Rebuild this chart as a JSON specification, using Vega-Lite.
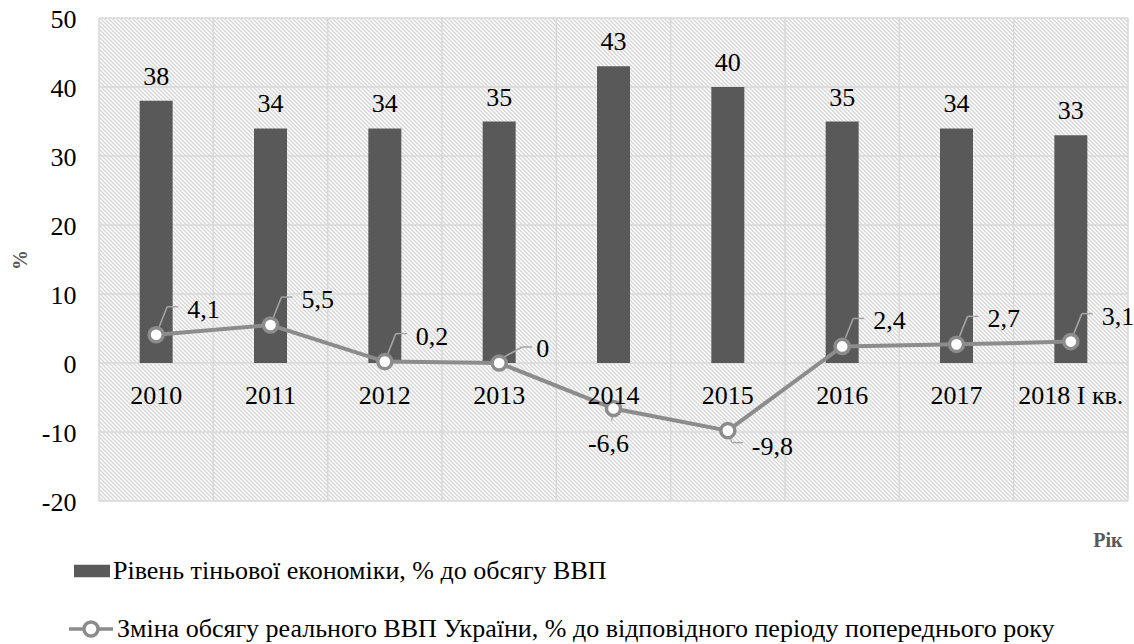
{
  "$schema": "https://vega.github.io/schema/vega-lite/v6.json",
  "width": 1029,
  "height": 483,
  "autosize": {"type": "none"},
  "padding": {"left": 99, "top": 18, "right": 6, "bottom": 143},
  "background": "white",
  "config": {
    "view": {"stroke": null},
    "font": "Liberation Serif, Times New Roman, DejaVu Serif, serif",
    "style": {
      "guide-label": {"font": "Liberation Serif, Times New Roman, DejaVu Serif, serif"},
      "guide-title": {"font": "Liberation Serif, Times New Roman, DejaVu Serif, serif"},
      "text": {"font": "Liberation Serif, Times New Roman, DejaVu Serif, serif"}
    },
    "axis": {"grid": false, "ticks": false, "domain": false},
    "locale": {"number": {"decimal": ",", "thousands": " ", "grouping": [3], "currency": ["", ""], "minus": "-"}}
  },
  "datasets": {
    "main": [
      {"year": "2010", "shadow": 38, "gdp": 4.1},
      {"year": "2011", "shadow": 34, "gdp": 5.5},
      {"year": "2012", "shadow": 34, "gdp": 0.2},
      {"year": "2013", "shadow": 35, "gdp": 0},
      {"year": "2014", "shadow": 43, "gdp": -6.6},
      {"year": "2015", "shadow": 40, "gdp": -9.8},
      {"year": "2016", "shadow": 35, "gdp": 2.4},
      {"year": "2017", "shadow": 34, "gdp": 2.7},
      {"year": "2018 I кв.", "shadow": 33, "gdp": 3.1}
    ],
    "grid": [{"v": -20}, {"v": -10}, {"v": 0}, {"v": 10}, {"v": 20}, {"v": 30}, {"v": 40}, {"v": 50}]
  },
  "data": {"name": "main"},
  "layer": [
    {
      "data": {"values": [{}]},
      "mark": {"type": "rule", "clip": true, "color": "#d6d6d6", "strokeWidth": 1300, "strokeDash": [1.414, 1.414], "strokeCap": "butt", "xOffset": -57.1667, "x2Offset": 57.1667},
      "encoding": {
        "x": {"datum": "2010", "type": "nominal", "scale": {"domain": ["2010","2011","2012","2013","2014","2015","2016","2017","2018 I кв."], "paddingInner": 0, "paddingOuter": 0}},
        "x2": {"datum": "2018 I кв."},
        "y": {"datum": -59.565, "type": "quantitative", "scale": {"domain": [-20, 50], "nice": false, "zero": false}},
        "y2": {"datum": 89.565}
      }
    },
    {
      "data": {"name": "grid"},
      "mark": {"type": "rule", "color": "#d9d9d9", "strokeWidth": 1.5},
      "encoding": {
        "y": {"field": "v", "type": "quantitative", "scale": {"domain": [-20, 50], "nice": false, "zero": false}}
      }
    },
    {
      "mark": {"type": "rule", "color": "#d9d9d9", "strokeWidth": 1.5, "xOffset": -57.1667},
      "encoding": {
        "x": {"field": "year", "type": "nominal", "scale": {"domain": ["2010","2011","2012","2013","2014","2015","2016","2017","2018 I кв."], "paddingInner": 0, "paddingOuter": 0}}
      }
    },
    {
      "data": {"values": [{}]},
      "mark": {"type": "rule", "color": "#d9d9d9", "strokeWidth": 1.5, "xOffset": 57.1667},
      "encoding": {
        "x": {"datum": "2018 I кв.", "type": "nominal", "scale": {"domain": ["2010","2011","2012","2013","2014","2015","2016","2017","2018 I кв."], "paddingInner": 0, "paddingOuter": 0}}
      }
    },
    {
      "mark": {"type": "bar", "width": 33},
      "encoding": {
        "x": {
          "field": "year", "type": "nominal",
          "scale": {"domain": ["2010","2011","2012","2013","2014","2015","2016","2017","2018 I кв."], "paddingInner": 0, "paddingOuter": 0},
          "axis": {
            "title": "Рік", "orient": "bottom", "offset": -138, "zindex": 1, "bandPosition": 0.5, "labelFlush": false,
            "domain": false, "ticks": false, "tickSize": 0, "grid": false,
            "labelFont": "Liberation Serif, Times New Roman, DejaVu Serif, serif",
            "labelFontSize": 26, "labelColor": "#000000", "labelAlign": "center",
            "labelBaseline": "alphabetic", "labelPadding": 40, "labelAngle": 0, "labelLimit": 300,
            "titleFont": "Liberation Serif, Times New Roman, DejaVu Serif, serif",
            "titleFontSize": 20, "titleFontWeight": "bold", "titleColor": "#595959",
            "titleX": 1023, "titleY": 183, "titleAlign": "right", "titleBaseline": "alphabetic", "titleAngle": 0
          }
        },
        "y": {
          "field": "shadow", "type": "quantitative",
          "scale": {"domain": [-20, 50], "nice": false, "zero": false},
          "axis": {
            "title": "%", "values": [-20, -10, 0, 10, 20, 30, 40, 50], "zindex": 1,
            "domain": false, "ticks": false, "tickSize": 0, "grid": false,
            "labelFont": "Liberation Serif, Times New Roman, DejaVu Serif, serif", "labelAngle": 0,
            "labelBaseline": "alphabetic", "labelOffset": 9, "labelLimit": 300, "labelFlush": false,
            "labelFontSize": 26, "labelColor": "#000000", "labelPadding": 23,
            "titleFont": "Liberation Serif, Times New Roman, DejaVu Serif, serif",
            "titleFontSize": 20, "titleFontWeight": "bold", "titleColor": "#595959",
            "titleX": -79, "titleY": 241.5, "titleAngle": 270, "titleAlign": "center", "titleBaseline": "middle"
          }
        },
        "fill": {
          "datum": "Рівень тіньової економіки, % до обсягу ВВП",
          "scale": {"range": ["#595959"]},
          "legend": {
            "orient": "none", "legendX": -25, "legendY": 535, "title": null, "padding": 0,
            "symbolType": "M-1,-0.35L1,-0.35L1,0.35L-1,0.35Z", "symbolSize": 1296, "symbolStrokeWidth": 0,
            "labelFont": "Liberation Serif, Times New Roman, DejaVu Serif, serif",
            "labelFontSize": 26, "labelColor": "#000000", "labelOffset": 3, "labelLimit": 2000
          }
        }
      }
    },
    {
      "mark": {"type": "text", "dy": -16, "baseline": "alphabetic", "align": "center", "fontSize": 26, "color": "#000000", "font": "Liberation Serif, Times New Roman, DejaVu Serif, serif"},
      "encoding": {
        "x": {"field": "year", "type": "nominal", "scale": {"domain": ["2010","2011","2012","2013","2014","2015","2016","2017","2018 I кв."], "paddingInner": 0, "paddingOuter": 0}},
        "y": {"field": "shadow", "type": "quantitative", "scale": {"domain": [-20, 50], "nice": false, "zero": false}},
        "text": {"field": "shadow", "type": "quantitative"}
      }
    },
    {
      "mark": {"type": "line", "strokeWidth": 4},
      "encoding": {
        "x": {"field": "year", "type": "nominal", "scale": {"domain": ["2010","2011","2012","2013","2014","2015","2016","2017","2018 I кв."], "paddingInner": 0, "paddingOuter": 0}},
        "y": {"field": "gdp", "type": "quantitative", "scale": {"domain": [-20, 50], "nice": false, "zero": false}},
        "stroke": {
          "datum": "Зміна обсягу реального ВВП України, % до відповідного періоду попереднього року",
          "scale": {"range": ["#8c8c8c"]},
          "legend": {
            "orient": "none", "legendX": -32, "legendY": 587, "title": null, "padding": 0,
            "symbolType": "M-1,0L-0.32,0M0.32,0L1,0M-0.32,0A0.32,0.32,0,1,1,0.32,0A0.32,0.32,0,1,1,-0.32,0Z",
            "symbolSize": 1936, "symbolStrokeWidth": 3.5, "symbolFillColor": "#ffffff",
            "labelFont": "Liberation Serif, Times New Roman, DejaVu Serif, serif",
            "labelFontSize": 26, "labelColor": "#000000", "labelOffset": 2, "labelLimit": 2000,
            "encode": {"symbols": {"update": {"fill": {"value": "#ffffff"}, "strokeWidth": {"value": 3.5}}}}
          }
        }
      }
    },
    {
      "transform": [{"filter": {"field": "year", "oneOf": ["2010", "2011", "2012", "2016", "2017", "2018 I кв."]}}],
      "mark": {"type": "rule", "color": "#a6a6a6", "strokeWidth": 1.5, "xOffset": 3, "x2Offset": 11, "yOffset": -8, "y2Offset": -28},
      "encoding": {
        "x": {"field": "year", "type": "nominal", "scale": {"domain": ["2010","2011","2012","2013","2014","2015","2016","2017","2018 I кв."], "paddingInner": 0, "paddingOuter": 0}},
        "x2": {"field": "year"},
        "y": {"field": "gdp", "type": "quantitative", "scale": {"domain": [-20, 50], "nice": false, "zero": false}},
        "y2": {"field": "gdp"}
      }
    },
    {
      "transform": [{"filter": {"field": "year", "oneOf": ["2010", "2011", "2012", "2016", "2017", "2018 I кв."]}}],
      "mark": {"type": "rule", "color": "#a6a6a6", "strokeWidth": 1.5, "xOffset": 11, "x2Offset": 22, "yOffset": -28, "y2Offset": -28},
      "encoding": {
        "x": {"field": "year", "type": "nominal", "scale": {"domain": ["2010","2011","2012","2013","2014","2015","2016","2017","2018 I кв."], "paddingInner": 0, "paddingOuter": 0}},
        "x2": {"field": "year"},
        "y": {"field": "gdp", "type": "quantitative", "scale": {"domain": [-20, 50], "nice": false, "zero": false}},
        "y2": {"field": "gdp"}
      }
    },
    {
      "transform": [{"filter": {"field": "year", "equal": "2013"}}],
      "mark": {"type": "rule", "color": "#a6a6a6", "strokeWidth": 1.5, "xOffset": 3, "x2Offset": 23, "yOffset": -5, "y2Offset": -16},
      "encoding": {
        "x": {"field": "year", "type": "nominal", "scale": {"domain": ["2010","2011","2012","2013","2014","2015","2016","2017","2018 I кв."], "paddingInner": 0, "paddingOuter": 0}},
        "x2": {"field": "year"},
        "y": {"field": "gdp", "type": "quantitative", "scale": {"domain": [-20, 50], "nice": false, "zero": false}},
        "y2": {"field": "gdp"}
      }
    },
    {
      "transform": [{"filter": {"field": "year", "equal": "2013"}}],
      "mark": {"type": "rule", "color": "#a6a6a6", "strokeWidth": 1.5, "xOffset": 23, "x2Offset": 33, "yOffset": -16, "y2Offset": -16},
      "encoding": {
        "x": {"field": "year", "type": "nominal", "scale": {"domain": ["2010","2011","2012","2013","2014","2015","2016","2017","2018 I кв."], "paddingInner": 0, "paddingOuter": 0}},
        "x2": {"field": "year"},
        "y": {"field": "gdp", "type": "quantitative", "scale": {"domain": [-20, 50], "nice": false, "zero": false}},
        "y2": {"field": "gdp"}
      }
    },
    {
      "transform": [{"filter": {"field": "year", "equal": "2014"}}],
      "mark": {"type": "rule", "color": "#a6a6a6", "strokeWidth": 1.5, "xOffset": 0, "x2Offset": -2, "yOffset": 6, "y2Offset": 12},
      "encoding": {
        "x": {"field": "year", "type": "nominal", "scale": {"domain": ["2010","2011","2012","2013","2014","2015","2016","2017","2018 I кв."], "paddingInner": 0, "paddingOuter": 0}},
        "x2": {"field": "year"},
        "y": {"field": "gdp", "type": "quantitative", "scale": {"domain": [-20, 50], "nice": false, "zero": false}},
        "y2": {"field": "gdp"}
      }
    },
    {
      "transform": [{"filter": {"field": "year", "equal": "2015"}}],
      "mark": {"type": "rule", "color": "#a6a6a6", "strokeWidth": 1.5, "xOffset": 2, "x2Offset": 4, "yOffset": 6, "y2Offset": 12},
      "encoding": {
        "x": {"field": "year", "type": "nominal", "scale": {"domain": ["2010","2011","2012","2013","2014","2015","2016","2017","2018 I кв."], "paddingInner": 0, "paddingOuter": 0}},
        "x2": {"field": "year"},
        "y": {"field": "gdp", "type": "quantitative", "scale": {"domain": [-20, 50], "nice": false, "zero": false}},
        "y2": {"field": "gdp"}
      }
    },
    {
      "transform": [{"filter": {"field": "year", "equal": "2015"}}],
      "mark": {"type": "rule", "color": "#a6a6a6", "strokeWidth": 1.5, "xOffset": 4, "x2Offset": 15, "yOffset": 12, "y2Offset": 12},
      "encoding": {
        "x": {"field": "year", "type": "nominal", "scale": {"domain": ["2010","2011","2012","2013","2014","2015","2016","2017","2018 I кв."], "paddingInner": 0, "paddingOuter": 0}},
        "x2": {"field": "year"},
        "y": {"field": "gdp", "type": "quantitative", "scale": {"domain": [-20, 50], "nice": false, "zero": false}},
        "y2": {"field": "gdp"}
      }
    },
    {
      "mark": {"type": "point", "shape": "circle", "filled": true, "fill": "#ffffff", "stroke": "#8c8c8c", "strokeWidth": 3.5, "size": 200, "opacity": 1},
      "encoding": {
        "x": {"field": "year", "type": "nominal", "scale": {"domain": ["2010","2011","2012","2013","2014","2015","2016","2017","2018 I кв."], "paddingInner": 0, "paddingOuter": 0}},
        "y": {"field": "gdp", "type": "quantitative", "scale": {"domain": [-20, 50], "nice": false, "zero": false}}
      }
    },
    {
      "transform": [{"filter": {"field": "year", "oneOf": ["2010", "2011", "2012", "2016", "2017", "2018 I кв."]}}],
      "mark": {"type": "text", "align": "left", "baseline": "alphabetic", "dx": 31, "dy": -17, "fontSize": 26, "color": "#000000", "font": "Liberation Serif, Times New Roman, DejaVu Serif, serif"},
      "encoding": {
        "x": {"field": "year", "type": "nominal", "scale": {"domain": ["2010","2011","2012","2013","2014","2015","2016","2017","2018 I кв."], "paddingInner": 0, "paddingOuter": 0}},
        "y": {"field": "gdp", "type": "quantitative", "scale": {"domain": [-20, 50], "nice": false, "zero": false}},
        "text": {"field": "gdp", "type": "quantitative", "format": ".1~f"}
      }
    },
    {
      "transform": [{"filter": {"field": "year", "equal": "2013"}}],
      "mark": {"type": "text", "align": "left", "baseline": "alphabetic", "dx": 37, "dy": -6, "fontSize": 26, "color": "#000000", "font": "Liberation Serif, Times New Roman, DejaVu Serif, serif"},
      "encoding": {
        "x": {"field": "year", "type": "nominal", "scale": {"domain": ["2010","2011","2012","2013","2014","2015","2016","2017","2018 I кв."], "paddingInner": 0, "paddingOuter": 0}},
        "y": {"field": "gdp", "type": "quantitative", "scale": {"domain": [-20, 50], "nice": false, "zero": false}},
        "text": {"field": "gdp", "type": "quantitative", "format": ".1~f"}
      }
    },
    {
      "transform": [{"filter": {"field": "year", "equal": "2014"}}],
      "mark": {"type": "text", "align": "center", "baseline": "alphabetic", "dx": -5, "dy": 43, "fontSize": 26, "color": "#000000", "font": "Liberation Serif, Times New Roman, DejaVu Serif, serif"},
      "encoding": {
        "x": {"field": "year", "type": "nominal", "scale": {"domain": ["2010","2011","2012","2013","2014","2015","2016","2017","2018 I кв."], "paddingInner": 0, "paddingOuter": 0}},
        "y": {"field": "gdp", "type": "quantitative", "scale": {"domain": [-20, 50], "nice": false, "zero": false}},
        "text": {"field": "gdp", "type": "quantitative", "format": ".1~f"}
      }
    },
    {
      "transform": [{"filter": {"field": "year", "equal": "2015"}}],
      "mark": {"type": "text", "align": "left", "baseline": "alphabetic", "dx": 24, "dy": 24, "fontSize": 26, "color": "#000000", "font": "Liberation Serif, Times New Roman, DejaVu Serif, serif"},
      "encoding": {
        "x": {"field": "year", "type": "nominal", "scale": {"domain": ["2010","2011","2012","2013","2014","2015","2016","2017","2018 I кв."], "paddingInner": 0, "paddingOuter": 0}},
        "y": {"field": "gdp", "type": "quantitative", "scale": {"domain": [-20, 50], "nice": false, "zero": false}},
        "text": {"field": "gdp", "type": "quantitative", "format": ".1~f"}
      }
    }
  ]
}
